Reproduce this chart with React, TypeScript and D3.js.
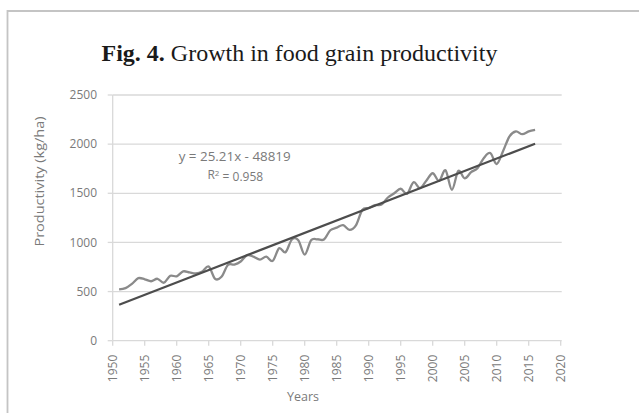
import React from "react";
import * as d3 from "d3";

const years: number[] = [
  1951, 1952, 1953, 1954, 1955, 1956, 1957, 1958, 1959, 1960,
  1961, 1962, 1963, 1964, 1965, 1966, 1967, 1968, 1969, 1970,
  1971, 1972, 1973, 1974, 1975, 1976, 1977, 1978, 1979, 1980,
  1981, 1982, 1983, 1984, 1985, 1986, 1987, 1988, 1989, 1990,
  1991, 1992, 1993, 1994, 1995, 1996, 1997, 1998, 1999, 2000,
  2001, 2002, 2003, 2004, 2005, 2006, 2007, 2008, 2009, 2010,
  2011, 2012, 2013, 2014, 2015, 2016,
];

const productivity: number[] = [
  522, 535, 578, 636, 625, 605, 630, 590, 660, 655,
  705, 695, 685, 705, 755, 630, 650, 770, 775, 806,
  870, 855, 825, 855, 812, 940, 900, 1030, 1022, 876,
  1022, 1032, 1030, 1124, 1150, 1175, 1128, 1173, 1330, 1350,
  1380, 1385, 1457, 1500, 1546, 1495, 1612, 1552, 1627, 1704,
  1626, 1734, 1535, 1727, 1652, 1715, 1756, 1860, 1909, 1798,
  1930, 2078, 2129, 2101, 2130, 2145,
];

const trendSlope = 25.21;
const trendIntercept = -48819;
const trendEquation = "y = 25.21x - 48819";
const rSquaredLabel = "0.958";

const xTicks: number[] = [1950, 1955, 1960, 1965, 1970, 1975, 1980, 1985, 1990, 1995, 2000, 2005, 2010, 2015, 2020];
const yTicks: number[] = [0, 500, 1000, 1500, 2000, 2500];

const titleBold = "Fig. 4.";
const titleRest = " Growth in food grain productivity";
const yTitle = "Productivity (kg/ha)";
const xTitle = "Years";

export default function App() {
  const W = 639;
  const H = 413;
  const left = 112.7;
  const right = 560.7;
  const top = 95;
  const bottom = 340.7;

  const x = d3.scaleLinear().domain([1950, 2020]).range([left, right]);
  const y = d3.scaleLinear().domain([0, 2500]).range([bottom, top]);

  const pts = years.map((yr, i) => [yr, productivity[i]] as [number, number]);
  const line = d3
    .line<[number, number]>()
    .x((d) => x(d[0]))
    .y((d) => y(d[1]))
    .curve(d3.curveCardinal.tension(0));
  const dataPath = line(pts) || "";

  const t0 = years[0];
  const t1 = years[years.length - 1];
  const trendPts: [number, number][] = [
    [t0, trendSlope * t0 + trendIntercept],
    [t1, trendSlope * t1 + trendIntercept],
  ];
  const trendPath =
    d3
      .line<[number, number]>()
      .x((d) => x(d[0]))
      .y((d) => y(d[1]))(trendPts) || "";

  const sans = "'Open Sans', 'DejaVu Sans', sans-serif";
  const labelColor = "#7a7a7a";
  const gridColor = "#d9d9d9";

  return (
    <svg
      width={W}
      height={H}
      style={{ position: "absolute", left: 0, top: 0, background: "#fff" }}
    >
      <rect x={0} y={0} width={W} height={H} fill="#fff" />
      {/* frame */}
      <path d={`M7.5,${H} L7.5,11 L${W},11`} fill="none" stroke="#c4c4c4" strokeWidth={1.8} />

      {/* title */}
      <text
        x={101.5}
        y={61}
        fontFamily="'Liberation Serif', 'Times New Roman', serif"
        fontSize={24}
        fill="#1a1a1a"
      >
        <tspan fontWeight="bold">{titleBold}</tspan>
        <tspan>{titleRest}</tspan>
      </text>

      {/* gridlines */}
      {yTicks.map((t) => (
        <g key={"g" + t}>
          {t > 0 && (
            <line x1={left} x2={right + 1} y1={y(t)} y2={y(t)} stroke={gridColor} strokeWidth={1.3} />
          )}
          <line x1={left - 5} x2={left} y1={y(t)} y2={y(t)} stroke={gridColor} strokeWidth={1.3} />
          <text
            x={97}
            y={y(t)}
            dy="0.35em"
            textAnchor="end"
            fontFamily={sans}
            fontSize={12}
            fill={labelColor}
          >
            {t}
          </text>
        </g>
      ))}

      {/* axes */}
      <line x1={left} x2={left} y1={top} y2={bottom} stroke={gridColor} strokeWidth={1.3} />
      <line x1={left} x2={right + 1} y1={bottom} y2={bottom} stroke={gridColor} strokeWidth={1.3} />

      {xTicks.map((t) => (
        <g key={"x" + t}>
          <line x1={x(t)} x2={x(t)} y1={bottom} y2={bottom + 5} stroke={gridColor} strokeWidth={1.3} />
          <text
            transform={`translate(${x(t)},${bottom + 14}) rotate(-90)`}
            textAnchor="end"
            dy="0.35em"
            fontFamily={sans}
            fontSize={12}
            fill={labelColor}
          >
            {t}
          </text>
        </g>
      ))}

      {/* axis titles */}
      <text
        transform={`translate(40,181.5) rotate(-90)`}
        textAnchor="middle"
        dy="0.35em"
        fontFamily={sans}
        fontSize={12.5}
        fill={labelColor}
        textLength={130}
        lengthAdjust="spacingAndGlyphs"
      >
        {yTitle}
      </text>
      <text
        x={303}
        y={397}
        dy="0.35em"
        textAnchor="middle"
        fontFamily={sans}
        fontSize={12.5}
        fill={labelColor}
      >
        {xTitle}
      </text>

      {/* data line */}
      <path d={dataPath} fill="none" stroke="#8a8a8a" strokeWidth={2.3} strokeLinejoin="round" />
      {/* trend line */}
      <path d={trendPath} fill="none" stroke="#4d4d4d" strokeWidth={2.2} />

      {/* equation */}
      <text
        x={234.7}
        y={156.7}
        dy="0.35em"
        textAnchor="middle"
        fontFamily={sans}
        fontSize={12}
        fill={labelColor}
        textLength={112}
        lengthAdjust="spacingAndGlyphs"
      >
        {trendEquation}
      </text>
      <text
        x={235.3}
        y={175}
        dy="0.35em"
        textAnchor="middle"
        fontFamily={sans}
        fontSize={12}
        fill={labelColor}
      >
        R<tspan dy="-0.4em" fontSize={8}>2</tspan>
        <tspan dy="0.4em">{" = " + rSquaredLabel}</tspan>
      </text>
    </svg>
  );
}
